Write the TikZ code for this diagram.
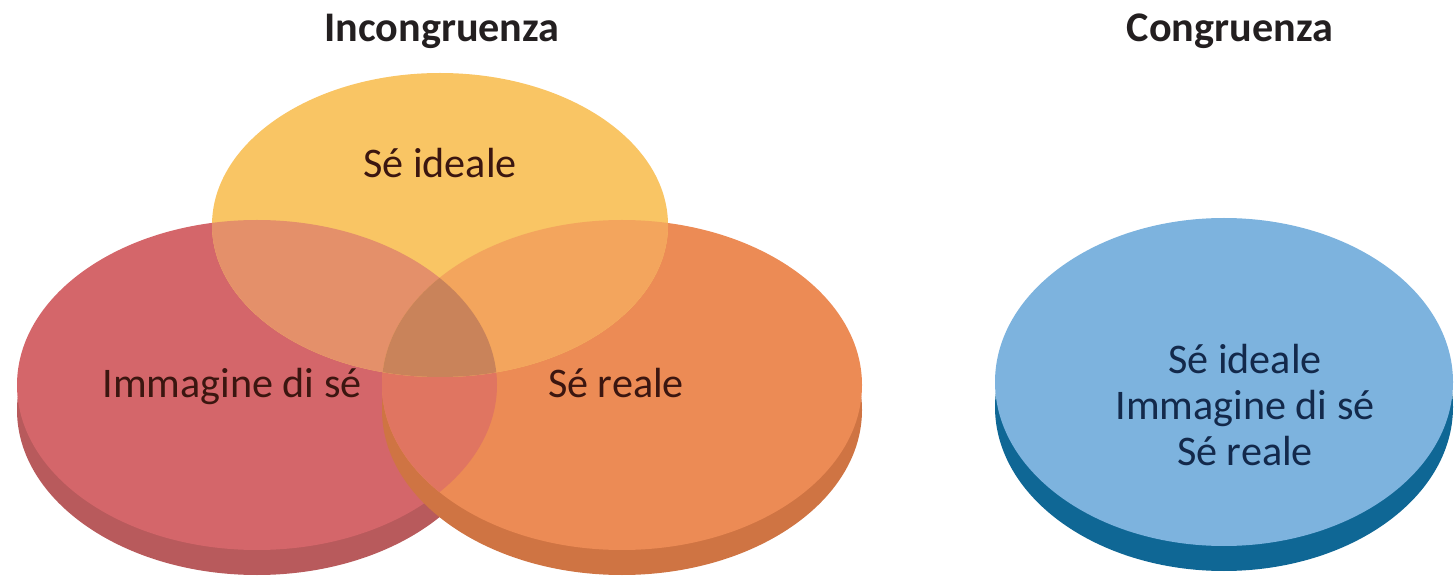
\documentclass[tikz,border=0pt]{standalone}
\usepackage{fontspec}
\setmainfont{Carlito}
\definecolor{idealface}{HTML}{F9C564}
\definecolor{redface}{HTML}{D4666A}
\definecolor{redlip}{HTML}{B85A5C}
\definecolor{orangeface}{HTML}{EC8B55}
\definecolor{orangelip}{HTML}{CF7443}
\definecolor{redorange}{HTML}{E07561}
\definecolor{idealred}{HTML}{E4906A}
\definecolor{idealorange}{HTML}{F3A55D}
\definecolor{allthree}{HTML}{C9835A}
\definecolor{wholeface}{HTML}{7DB3DE}
\definecolor{wholelip}{HTML}{0F6795}
\definecolor{titletext}{HTML}{231F20}
\definecolor{labeltext}{HTML}{3B1610}
\definecolor{wholetext}{HTML}{13294B}
\begin{document}
\begin{tikzpicture}[x=0.02cm, y=-0.02cm,
			venn/.style = {x radius=240, y radius=165},
			ideal/.style = {x radius=228, y radius=152},
			whole/.style = {x radius=229, y radius=164},
			caption/.style = {font=\fontsize{24}{26}\selectfont\bfseries, text=titletext, anchor=base},
			venntext/.style = {font=\fontsize{24}{26}\selectfont, text=labeltext, anchor=base}
					]
			\def\cy{385}
			\def\lip{25}
			\useasboundingbox (0,0) rectangle (1454,587);
			\foreach \cx/\lipcol/\facecol in {257/redlip/redface, 622/orangelip/orangeface} {
				\fill[\lipcol] (\cx,\cy+\lip) ellipse [venn];
				\fill[\facecol] (\cx,\cy) ellipse [venn];
			}
			\begin{scope}
				\clip (257,\cy) ellipse [venn];
				\fill[redorange] (622,\cy) ellipse [venn];
			\end{scope}
			\fill[idealface] (440,225) ellipse [ideal];
			\begin{scope}
				\clip (440,225) ellipse [ideal];
				\fill[idealred] (257,\cy) ellipse [venn];
				\fill[idealorange] (622,\cy) ellipse [venn];
				\clip (257,\cy) ellipse [venn];
				\fill[allthree] (622,\cy) ellipse [venn];
			\end{scope}
			\fill[wholelip] (1224,382+\lip) ellipse [whole];
			\fill[wholeface] (1224,382) ellipse [whole];
			\node[caption] (incongr) at (442,42) {Incongruenza};
			\node[caption] (congr) at (1230,42) {Congruenza};
			\node[venntext] (ideale) at (440,178) {Sé ideale};
			\node[venntext] (immagine) at (232,398) {Immagine di sé};
			\node[venntext] (reale) at (616,398) {Sé reale};
			\node[venntext, anchor=center, align=center, text=wholetext] (tutti) at (1245,405) {Sé ideale\\Immagine di sé\\Sé reale};
		\end{tikzpicture}
\end{document}
